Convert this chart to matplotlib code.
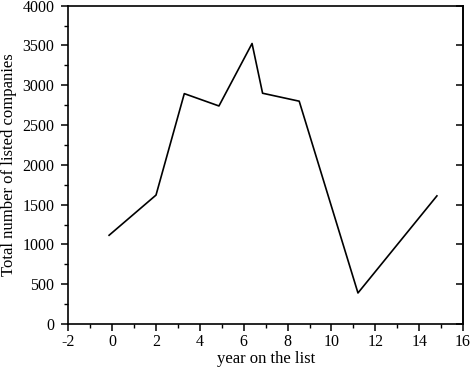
import matplotlib
matplotlib.use("Agg")
import matplotlib.pyplot as plt
from matplotlib.ticker import MultipleLocator

years = [-0.14, 2.0, 3.29, 4.87, 6.38, 6.86, 8.53, 11.21, 14.81]
companies = [1115, 1620, 2895, 2740, 3525, 2900, 2800, 390, 1610]

plt.rcParams['font.family'] = ['Liberation Serif', 'DejaVu Serif']
plt.rcParams['axes.unicode_minus'] = False

fig = plt.figure(figsize=(4.71, 3.70), dpi=100)
ax = fig.add_axes([68.3/471, 1 - 324/370, (463 - 68.3)/471, (324 - 5.7)/370])

ax.plot(years, companies, color='black', linewidth=1.2)

ax.set_xlim(-2, 16)
ax.set_ylim(0, 4000)
ax.xaxis.set_major_locator(MultipleLocator(2))
ax.xaxis.set_minor_locator(MultipleLocator(1))
ax.yaxis.set_major_locator(MultipleLocator(500))
ax.yaxis.set_minor_locator(MultipleLocator(250))

ax.tick_params(axis='both', which='major', direction='out', length=5, width=1.1,
               labelsize=11.5)
ax.tick_params(axis='x', which='major', pad=2)
ax.tick_params(axis='y', which='major', pad=5)
ax.tick_params(axis='both', which='minor', direction='out', length=3, width=1.0)
ax.tick_params(axis='y', which='both', right=False)

sec = ax.secondary_yaxis('right')
sec.yaxis.set_major_locator(MultipleLocator(500))
sec.yaxis.set_minor_locator(MultipleLocator(10000))
sec.tick_params(axis='y', which='major', direction='in', length=5, width=1.1, labelright=False)
sec.spines['right'].set_linewidth(1.2)

for s in ax.spines.values():
    s.set_linewidth(1.2)

ax.set_xlabel('year on the list', fontsize=12, labelpad=1)
ax.set_ylabel('Total number of listed companies', fontsize=12, labelpad=4)

fig.savefig('out.png', dpi=100)
